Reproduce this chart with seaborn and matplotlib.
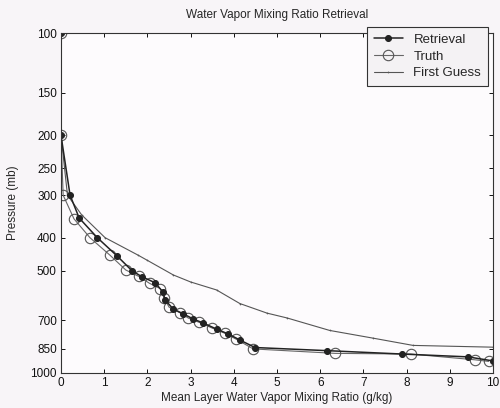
import numpy as np
import pandas as pd
import seaborn as sns
import matplotlib.pyplot as plt
from matplotlib.ticker import FixedLocator, NullLocator, MultipleLocator

# values
retrieval_x = [0, 0, 0.21, 0.42, 0.84, 1.3, 1.64, 1.87, 2.18, 2.36, 2.41, 2.6, 2.83,
               3.06, 3.29, 3.6, 3.87, 4.14, 4.49, 6.16, 7.9, 9.42, 10.0]
retrieval_p = [100, 200, 300, 350, 400, 453, 500, 521, 543, 578, 610, 649, 670,
               694, 713, 743, 768, 800, 842, 860, 880, 897, 922]

truth_x = [0, 0, 0.05, 0.3, 0.67, 1.13, 1.5, 1.8, 2.05, 2.3, 2.38, 2.5, 2.75,
           2.95, 3.2, 3.5, 3.8, 4.05, 4.45, 6.35, 8.1, 9.58, 9.9]
truth_p = [100, 200, 300, 352, 400, 450, 498, 520, 545, 565, 600, 640, 665,
           690, 710, 738, 765, 795, 850, 876, 880, 915, 925]

guess_x = [0, 0, 0.15, 0.48, 1.02, 1.78, 1.98, 2.6, 3.0, 3.6, 4.14, 4.77, 5.23,
           6.22, 7.22, 8.15, 10.0]
guess_p = [100, 200, 300, 343, 400, 450, 465, 515, 540, 570, 625, 667, 689,
           750, 790, 830, 840]

y_ticks = [100, 150, 200, 250, 300, 400, 500, 700, 850, 1000]

sns.set_style("ticks")
plt.rcParams['font.family'] = ['Liberation Sans', 'DejaVu Sans']

fig = plt.figure(figsize=(5.0, 4.08), dpi=100, facecolor='#f8f5f8')
ax = fig.add_axes([0.122, 0.086, 0.864, 0.833])
ax.set_facecolor('#fdfbfd')

line_col = '#222222'

sns.lineplot(x=guess_x, y=guess_p, sort=False, estimator=None, ax=ax,
             color='#555555', linewidth=0.8, marker='.', markersize=2.5,
             markeredgewidth=0, label='First Guess')
sns.lineplot(x=truth_x, y=truth_p, sort=False, estimator=None, ax=ax,
             color='#666666', linewidth=0.8, marker='o', markersize=7.5,
             markerfacecolor='none', markeredgecolor='#555555', markeredgewidth=0.8,
             label='Truth')
sns.lineplot(x=retrieval_x, y=retrieval_p, sort=False, estimator=None, ax=ax,
             color=line_col, linewidth=1.1, marker='o', markersize=4.3,
             markerfacecolor=line_col, markeredgecolor=line_col, label='Retrieval')

ax.set_yscale('log')
ax.set_ylim(1000, 100)
ax.set_xlim(0, 10)
ax.yaxis.set_major_locator(FixedLocator(y_ticks))
ax.yaxis.set_minor_locator(NullLocator())
ax.set_yticklabels([str(t) for t in y_ticks])
ax.xaxis.set_major_locator(MultipleLocator(1))
ax.set_xticklabels([str(int(t)) for t in ax.get_xticks()])

ax.tick_params(direction='in', length=3, width=0.7, top=True, right=True,
               labelsize=8.5, pad=3, colors='#111111')
for s in ax.spines.values():
    s.set_linewidth(0.8)
    s.set_color('#333333')

ax.set_xlabel('Mean Layer Water Vapor Mixing Ratio (g/kg)', fontsize=8.5, labelpad=2)
ax.set_ylabel('Pressure (mb)', fontsize=8.5, labelpad=8)
ax.set_title('Water Vapor Mixing Ratio Retrieval', fontsize=8.5, pad=11)

handles, labels = ax.get_legend_handles_labels()
order = [labels.index('Retrieval'), labels.index('Truth'), labels.index('First Guess')]
leg = ax.legend([handles[i] for i in order], [labels[i] for i in order],
                loc='upper right', bbox_to_anchor=(0.988, 1.018),
                fontsize=9.5, frameon=True, fancybox=False,
                edgecolor='#333333', framealpha=1, borderpad=0.5,
                handlelength=2.2, labelspacing=0.35, borderaxespad=0.0)
leg.get_frame().set_linewidth(0.8)
leg.get_frame().set_facecolor('#f4f2f4')

plt.savefig('out.png', dpi=100, facecolor=fig.get_facecolor())
